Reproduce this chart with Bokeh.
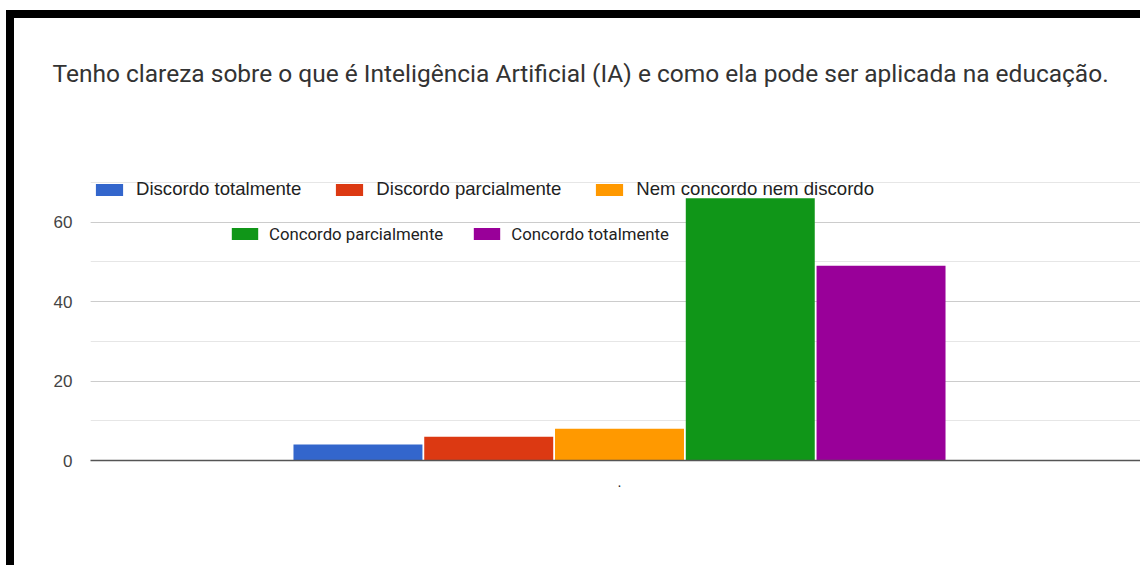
from bokeh.plotting import figure
from bokeh.models import (ColumnDataSource, Range1d, FactorRange, SingleIntervalTicker,
                          Legend, LegendItem, InlineStyleSheet, Title)
from bokeh.transform import dodge
from bokeh.embed import file_html
from bokeh.resources import INLINE

# ---- data ----
title_text = "Tenho clareza sobre o que é Inteligência Artificial (IA) e como ela pode ser aplicada na educação."
category = ["."]
series = ["Discordo totalmente", "Discordo parcialmente", "Nem concordo nem discordo",
          "Concordo parcialmente", "Concordo totalmente"]
values = [4, 6, 8, 66, 49]
colors = ["#3366cc", "#dc3912", "#ff9900", "#109618", "#990099"]

p = figure(width=1134, height=555, x_range=FactorRange(factors=category, range_padding=0),
           y_range=Range1d(0, 72), output_backend="svg", toolbar_location=None,
           min_border_left=76, min_border_right=0, min_border_top=156, min_border_bottom=113,
           title=None)
p.stylesheets = [InlineStyleSheet(css=":host { margin-top: 10px; margin-left: 6px; overflow: hidden; "
                                      "border-top: 8px solid black; border-left: 8px solid black; }")]
p.outline_line_color = None
p.background_fill_color = "white"
p.border_fill_color = "white"

# spacer between title and plot frame, then the title itself
p.add_layout(Title(text=" ", text_font_size="12px", standoff=71), "above")
p.add_layout(Title(text=title_text, text_font="Roboto", text_font_size="24.5px",
                   text_font_style="normal", text_color="#333333", align="left",
                   offset=-38, standoff=0), "above")

renderers = []
step = 0.1236
for i, (name, val, col) in enumerate(zip(series, values, colors)):
    src = ColumnDataSource(data=dict(cat=category, top=[val]))
    r = p.vbar(x=dodge("cat", (i - 2) * step, range=p.x_range), top="top", width=0.1219,
               source=src, fill_color=col, line_color=None)
    renderers.append(r)

# axes
p.yaxis.ticker = SingleIntervalTicker(interval=20, num_minor_ticks=2)
p.yaxis.axis_line_color = None
p.yaxis.major_tick_line_color = None
p.yaxis.minor_tick_line_color = None
p.yaxis.major_tick_out = 0
p.yaxis.major_label_standoff = 14
p.yaxis.major_label_text_font = "Liberation Sans"
p.yaxis.major_label_text_font_size = "17px"
p.yaxis.major_label_text_color = "#444444"

p.xaxis.axis_line_color = "#555555"
p.xaxis.axis_line_width = 1.5
p.xaxis.major_tick_line_color = None
p.xaxis.minor_tick_line_color = None
p.xaxis.major_tick_out = 0
p.xaxis.major_label_standoff = 16
p.xaxis.major_label_text_font = "Liberation Sans"
p.xaxis.major_label_text_font_size = "14px"
p.xaxis.major_label_text_color = "#222222"

p.xgrid.grid_line_color = None
p.ygrid.grid_line_color = "#cccccc"
p.ygrid.minor_grid_line_color = "#e6e6e6"

# legends
def make_legend(idx, loc, spacing, standoff, gw, font, size):
    return Legend(items=[LegendItem(label=series[j], renderers=[renderers[j]]) for j in idx],
                  orientation="horizontal", location=loc, spacing=spacing,
                  glyph_width=gw, glyph_height=15, label_standoff=standoff,
                  padding=0, margin=0, border_line_color=None, background_fill_alpha=0,
                  label_text_font=font, label_text_font_size=size,
                  label_text_color="#222222", label_height=21)

p.add_layout(make_legend([0, 1, 2], (2, 260), 31, 10, 34, "Liberation Sans", "18.6px"), "center")
p.add_layout(make_legend([3, 4], (138, 216), 27, 8, 33, "Roboto", "16.8px"), "center")

open("out.html", "w").write(file_html(p, INLINE))
